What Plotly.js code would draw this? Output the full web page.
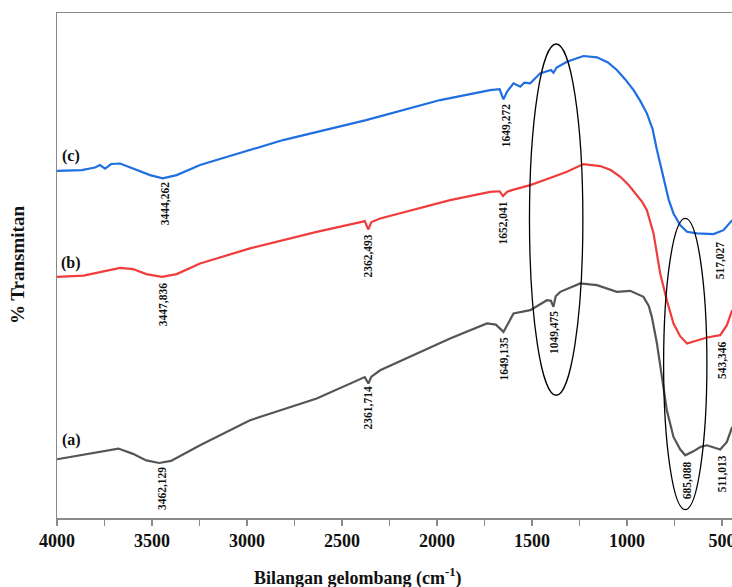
<!DOCTYPE html>
<html>
<head>
<meta charset="utf-8">
<script src="https://cdn.plot.ly/plotly-3.0.1.min.js"></script>
<style>html,body{margin:0;padding:0;background:#fff;}#chart{width:732px;height:587px;}</style>
</head>
<body>
<div id="chart"></div>
<script>
// ---- data (wavenumber cm-1, % transmittance, arbitrary offset units) ----
const waveC  = [4000,3870,3800,3774,3747,3715,3668,3600,3510,3444,3370,3247,2984,2810,2373,1983,1720,1670,1650,1630,1597,1562,1540,1509,1457,1400,1387,1370,1316,1229,1158,1100,1053,1010,965,930,895,865,842,807,780,755,720,684,632,544,492,446];
const transC = [68.75,68.9,69.4,69.9,69.2,70.1,70.2,69.2,67.9,67.25,67.9,69.9,72.86,74.84,78.8,82.76,84.74,84.9,82.9,84.5,86.07,85.4,86.2,86.07,88.05,88.71,88.17,89.2,90.35,91.48,91.22,90.2,88.71,86.9,84.74,82.6,80.13,77.0,72.86,66.91,63.0,60.31,58.0,56.67,56.35,56.21,57.0,58.99];

const waveB  = [4000,3860,3668,3600,3530,3448,3370,3247,2984,2633,2396,2380,2362,2345,2299,1931,1720,1670,1652,1630,1606,1509,1387,1316,1229,1141,1085,1035,990,948,920,895,860,825,790,755,720,684,632,579,509,474,446];
const transB = [47.75,48.0,49.53,49.3,48.3,47.75,48.3,50.41,53.38,56.67,58.65,58.8,57.14,58.6,59.32,62.95,64.59,64.7,63.74,64.6,64.93,65.92,67.56,68.56,70.08,69.69,68.9,67.56,65.9,63.94,62.6,60.97,56.35,48.43,43.13,38.52,36.0,34.56,35.21,35.74,36.2,38.18,41.15];

const waveA  = [4000,3677,3600,3530,3462,3400,3247,2984,2633,2396,2380,2361,2345,2299,1931,1737,1690,1650,1620,1597,1509,1421,1400,1387,1375,1351,1246,1158,1053,983,913,885,869,842,816,790,755,720,693,650,614,579,509,474,446];
const transA = [11.63,13.75,12.7,11.4,10.9,11.3,14.4,19.36,23.66,27.62,27.9,26.63,28.0,29.26,35.55,38.52,38.3,36.85,39.0,40.5,41.15,43.13,43.0,41.81,43.9,44.78,46.44,46.11,44.78,44.98,43.79,42.0,39.83,34.56,27.94,21.34,16.05,13.6,12.42,13.2,14.07,14.4,13.55,15.06,18.03];

const seriesNames = ["(a)","(b)","(c)"];
const tickVals = [4000,3500,3000,2500,2000,1500,1000,500];
const tickText = ["4000","3500","3000","2500","2000","1500","1000","500"];

// peak labels: text, wavenumber
const peakText = ["3444,262","3447,836","3462,129","2362,493","2361,714","1649,272","1652,041","1649,135","1049,475","685,088","511,013","543,346","517,027"];
const peakWave = [3431,3442,3447,2361,2362,1636,1650,1646,1387,684,500,500,509];

// ---- layout placement (not data) ----
const peakLabelY = [62.16,42.14,5.75,51.85,21.74,77.61,58.39,31.44,36.7,7.47,8.86,31.25,51.06];
const seriesLabelY = [15.4,50.47,71.67];

const colors = {a:"#555555", b:"#f03c3c", c:"#1f6fe0"};
const serif = "'Liberation Serif','Times New Roman',serif";

const traces = [
  {x: waveA, y: transA, type:"scatter", mode:"lines", line:{color:colors.a, width:2.2}, name:seriesNames[0], hoverinfo:"skip"},
  {x: waveB, y: transB, type:"scatter", mode:"lines", line:{color:colors.b, width:2.2}, name:seriesNames[1], hoverinfo:"skip"},
  {x: waveC, y: transC, type:"scatter", mode:"lines", line:{color:colors.c, width:2.2}, name:seriesNames[2], hoverinfo:"skip"}
];

const annotations = [];
peakText.forEach((t,i)=>{
  annotations.push({x: peakWave[i], y: peakLabelY[i], xref:"x", yref:"y", text:"<b>"+t+"</b>", showarrow:false, textangle:-90,
    font:{family:serif, size:11.5, color:"#111"}, xanchor:"center", yanchor:"middle"});
});
seriesNames.forEach((t,i)=>{
  annotations.push({x: 3926, y: seriesLabelY[i], xref:"x", yref:"y", text:"<b>"+t+"</b>", showarrow:false,
    font:{family:serif, size:16, color:"#111"}, xanchor:"center", yanchor:"middle"});
});
annotations.push({x:0.4459, y:-0.1175, xref:"paper", yref:"paper", text:"<b>Bilangan gelombang (cm<sup>-1</sup>)</b>", showarrow:false,
  font:{family:serif, size:18, color:"#111"}, xanchor:"center", yanchor:"middle"});
annotations.push({x:-0.0593, y:0.5007, xref:"paper", yref:"paper", text:"<b>% Transmitan</b>", showarrow:false, textangle:-90,
  font:{family:serif, size:19, color:"#111"}, xanchor:"center", yanchor:"middle"});

const shapes = [
  {type:"circle", xref:"x", yref:"y", x0:1513, x1:1232, y0:24.31, y1:93.86, line:{color:"#000", width:1.3}},
  {type:"circle", xref:"x", yref:"y", x0:807, x1:579, y0:1.66, y1:59.32, line:{color:"#000", width:1.3}}
];

const layout = {
  width:732, height:587,
  margin:{l:57, r:0, t:13, b:69, pad:0},
  paper_bgcolor:"#fff", plot_bgcolor:"#fff",
  showlegend:false,
  xaxis:{range:[4000,447], autorange:false, showgrid:false, zeroline:false,
    showline:true, mirror:true, linecolor:"#8a8a8a", linewidth:1.5,
    tickmode:"array", tickvals:tickVals, ticktext:tickText,
    ticks:"outside", ticklen:6, tickwidth:1.3, tickcolor:"#8a8a8a",
    ticklabeloverflow:"allow",
    minor:{dtick:250, tick0:0, ticks:"outside", ticklen:6, tickwidth:1.3, tickcolor:"#8a8a8a", showgrid:false},
    tickfont:{family:serif, size:18, color:"#111", weight:"bold"}},
  yaxis:{range:[0,100], autorange:false, showgrid:false, zeroline:false,
    showline:true, mirror:false, linecolor:"#8a8a8a", linewidth:1.5,
    showticklabels:false, ticks:""},
  annotations: annotations,
  shapes: shapes
};

Plotly.newPlot("chart", traces, layout, {staticPlot:true, displayModeBar:false});
</script>
</body>
</html>
